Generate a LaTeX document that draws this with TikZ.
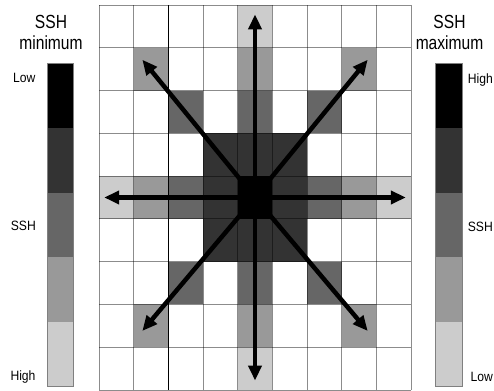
\documentclass[tikz,border=0pt]{standalone}
\usepackage{fontspec}
\setmainfont{Liberation Sans}
\newfontfamily\sshfont[FakeStretch=0.82]{Liberation Sans}
\newfontfamily\tagfont[FakeStretch=0.9]{Liberation Sans}
\usetikzlibrary{arrows.meta}

% grey levels of the SSH scale
\definecolor{lvlA}{gray}{0.80}
\definecolor{lvlB}{gray}{0.60}
\definecolor{lvlC}{gray}{0.40}
\definecolor{lvlD}{gray}{0.20}
\definecolor{lvlE}{gray}{0.00}

\begin{document}
\begin{tikzpicture}[x=1pt,y=1pt,
    title/.style={font=\sshfont\fontsize{19}{22}\selectfont, anchor=base, inner sep=0pt},
    tag/.style={font=\tagfont\fontsize{13.5}{16}\selectfont, inner sep=0pt},
    arr/.style={line width=4.5pt, -{Triangle[length=15pt,width=13pt]}}]
    \useasboundingbox (0,0) rectangle (494,390);

    % --- Grid of cells ---
    \begin{scope}[shift={(99,0)}, x=34.67pt, y=42.78pt]
        \foreach \c/\r in {4/8,0/4,8/4,4/0}
            \fill[lvlA] (\c,\r) rectangle ++(1,1);
        \foreach \c/\r in {1/7,4/7,7/7,1/4,7/4,1/1,4/1,7/1}
            \fill[lvlB] (\c,\r) rectangle ++(1,1);
        \foreach \c/\r in {2/6,4/6,6/6,2/4,6/4,2/2,4/2,6/2}
            \fill[lvlC] (\c,\r) rectangle ++(1,1);
        \foreach \c/\r in {3/5,4/5,5/5,3/4,5/4,3/3,4/3,5/3}
            \fill[lvlD] (\c,\r) rectangle ++(1,1);
        \fill[lvlE] (4,4) rectangle ++(1,1);

        % Grid lines
        \foreach \k in {0,...,9} {
            \draw[black, opacity=0.45, line width=0.8pt] (\k,0) -- (\k,9);
            \draw[black, opacity=0.45, line width=0.8pt] (0,\k) -- (9,\k);
        }
        \draw[black, line width=1.1pt] (2,0) -- (2,9);

        % Arrows from the centre cell
        \coordinate (ctr) at (4.5,4.5);
        \coordinate (tipN) at (4.5,8.78);
        \coordinate (tipS) at (4.5,0.22);
        \coordinate (tipW) at (0.15,4.5);
        \coordinate (tipE) at (8.85,4.5);
        \coordinate (tipNW) at (1.25,7.72);
        \coordinate (tipNE) at (7.75,7.72);
        \coordinate (tipSW) at (1.25,1.38);
        \coordinate (tipSE) at (7.75,1.38);
        \foreach \t in {tipN,tipS,tipW,tipE,tipNW,tipNE,tipSW,tipSE}
            \draw[arr] (ctr) -- (\t);
    \end{scope}

    % --- Scale bars ---
    \foreach \i/\col in {0/lvlE,1/lvlD,2/lvlC,3/lvlB,4/lvlA} {
        \fill[\col] (47,326.7-\i*64.68) rectangle ++(26.7,-64.68);
        \fill[\col] (435.3,326.7-\i*64.68) rectangle ++(26.7,-64.68);
    }
    \draw[gray, line width=0.6pt] (47,3.3) rectangle (73.7,326.7);
    \draw[gray, line width=0.6pt] (435.3,3.3) rectangle (462,326.7);

    % --- Labels ---
    \node[title] (minA) at (51,361) {SSH};
    \node[title] (minB) at (51,340) {minimum};
    \node[title] (maxA) at (449.5,361) {SSH};
    \node[title] (maxB) at (449.5,340) {maximum};

    \node[tag, anchor=base east] (lLow) at (35.5,307.7) {Low};
    \node[tag, anchor=base east] (lSsh) at (36,159) {SSH};
    \node[tag, anchor=base east] (lHigh) at (35.7,9.3) {High};
    \node[tag, anchor=base east] (rHigh) at (493,306.7) {High};
    \node[tag, anchor=base east] (rSsh) at (493,158.3) {SSH};
    \node[tag, anchor=base east] (rLow) at (493,9) {Low};
\end{tikzpicture}
\end{document}
